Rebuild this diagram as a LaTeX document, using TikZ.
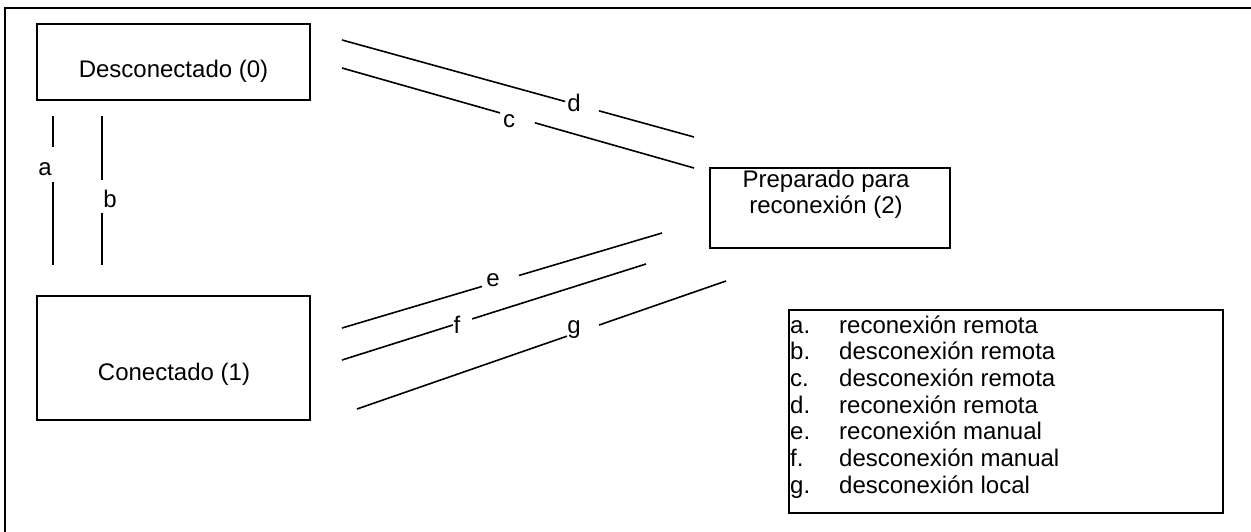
\documentclass[tikz,border=0pt]{standalone}
\usepackage{fontspec}
\setmainfont{Liberation Sans}
\usetikzlibrary{calc}
\begin{document}
\begin{tikzpicture}[x=1pt,y=-1pt,
  every node/.style={font=\fontsize{24}{26.7}\selectfont, inner sep=0pt},
  box/.style={draw, line width=1.6pt, minimum width=#1},
  txt/.style={anchor=base},
  conn/.style={line width=1.6pt},
  frame/.style={line width=2pt}]
\useasboundingbox (0,0) rectangle (1251,531);
% outer frame (clipped by page)
\draw[frame] (1255,8) -- (5,8) -- (5,535);

% boxes
\node[box=273pt, minimum height=76pt] (s0) at (173.5,62) {};
\node[txt] (s0t) at (173.5,77) {Desconectado (0)};
\node[box=273pt, minimum height=124pt] (s1) at (173.5,358) {};
\node[txt] (s1t) at (174,380) {Conectado (1)};
\node[box=240pt, minimum height=80pt] (s2) at (830,208) {};
\node[txt] (s2t1) at (826,187) {Preparado para};
\node[txt] (s2t2) at (826,213) {reconexión (2)};

% connector end points
\coordinate (a1) at (53,116);  \coordinate (a2) at (53,265);
\coordinate (b1) at (102,116); \coordinate (b2) at (102,265);
\coordinate (c1) at (342,68);  \coordinate (c2) at (694,168);
\coordinate (d1) at (342,40);  \coordinate (d2) at (694,137);
\coordinate (e1) at (342,328); \coordinate (e2) at (662,233);
\coordinate (f1) at (342,360); \coordinate (f2) at (646,264);
\coordinate (g1) at (357,409); \coordinate (g2) at (726,281);

\draw[conn] (a1) -- ($(a1)!0.208!(a2)$) ($(a1)!0.443!(a2)$) -- (a2);
\draw[conn] (b1) -- ($(b1)!0.430!(b2)$) ($(b1)!0.651!(b2)$) -- (b2);
\draw[conn] (c1) -- ($(c1)!0.449!(c2)$) ($(c1)!0.548!(c2)$) -- (c2);
\draw[conn] (d1) -- ($(d1)!0.634!(d2)$) ($(d1)!0.730!(d2)$) -- (d2);
\draw[conn] (e1) -- ($(e1)!0.4375!(e2)$) ($(e1)!0.553!(e2)$) -- (e2);
\draw[conn] (f1) -- ($(f1)!0.365!(f2)$) ($(f1)!0.428!(f2)$) -- (f2);
\draw[conn] (g1) -- ($(g1)!0.569!(g2)$) ($(g1)!0.656!(g2)$) -- (g2);

% connector labels
\node[txt] (la) at (45,175) {a};
\node[txt] (lb) at (110,207) {b};
\node[txt] (lc) at (509,127) {c};
\node[txt] (ld) at (574,111) {d};
\node[txt] (le) at (493,286) {e};
\node[txt] (lf) at (457,333) {f};
\node[txt] (lg) at (574,333) {g};

% legend
\node[draw, line width=1.6pt, minimum width=434pt, minimum height=203pt] (leg) at (1006,411.5) {};
\foreach \k/\l/\t [count=\i from 0] in {a/a./reconexión remota, b/b./desconexión remota, c/c./desconexión remota, d/d./reconexión remota, e/e./reconexión manual, f/f./desconexión manual, g/g./desconexión local}{
  \node[anchor=base west] (leg\k) at (790,{333+26.7*\i}) {\l};
  \node[anchor=base west] (legt\k) at (839,{333+26.7*\i}) {\t};
}
\end{tikzpicture}
\end{document}
